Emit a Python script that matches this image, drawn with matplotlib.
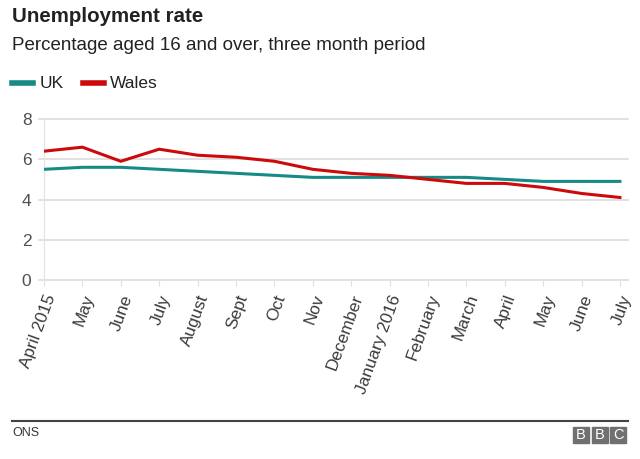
import matplotlib
matplotlib.use("Agg")
import matplotlib.pyplot as plt
from matplotlib.patches import Rectangle
from matplotlib.lines import Line2D

months = ["April 2015", "May", "June", "July", "August", "Sept", "Oct", "Nov",
          "December", "January 2016", "February", "March", "April", "May", "June", "July"]
uk = [5.5, 5.6, 5.6, 5.5, 5.4, 5.3, 5.2, 5.1, 5.1, 5.1, 5.1, 5.1, 5.0, 4.9, 4.9, 4.9]
wales = [6.4, 6.6, 5.9, 6.5, 6.2, 6.1, 5.9, 5.5, 5.3, 5.2, 5.0, 4.8, 4.8, 4.6, 4.3, 4.1]
yticks = [0, 2, 4, 6, 8]

UK_C = "#168b86"
WA_C = "#cc0a0a"
FONT = ["Liberation Sans", "DejaVu Sans"]
plt.rcParams["font.family"] = FONT

W, H = 640, 459
fig = plt.figure(figsize=(W / 100, H / 100), dpi=100)
fig.patch.set_facecolor("white")

def fx(px):
    return px / W

def fy(py):
    return 1 - py / H

ax = fig.add_axes([fx(44), fy(280), fx(628) - fx(44), fy(119) - fy(280)])
x = list(range(len(months)))
ax.plot(x, uk, color=UK_C, lw=2.2, solid_joinstyle="round", zorder=3)
ax.plot(x, wales, color=WA_C, lw=2.2, solid_joinstyle="round", zorder=4)
ax.set_xlim(0, 15.21)
ax.set_ylim(0, 8)
ax.set_yticks(yticks)
ax.set_yticklabels([str(v) for v in yticks])
for v in yticks:
    ax.axhline(v, color="#dcdcdc", lw=1.2, zorder=1, clip_on=False,
               xmin=-5 / 584, xmax=1)
for s in ["top", "right", "bottom"]:
    ax.spines[s].set_visible(False)
ax.spines["left"].set_color("#e6e6e6")
ax.spines["left"].set_linewidth(1)
ax.set_xticks(x)
ax.set_xticklabels(months, rotation=70, ha="right", rotation_mode="anchor")
ax.tick_params(axis="x", length=4, color="#e0e0e0", labelsize=12.3,
               labelcolor="#3a3a3a", pad=5)
ax.tick_params(axis="y", length=0, labelsize=12.5, labelcolor="#505050", pad=9)

fig.text(fx(12), fy(16), "Unemployment rate", fontsize=14.8, fontweight="bold",
         color="#222222", va="center", ha="left")
fig.text(fx(12), fy(46), "Percentage aged 16 and over, three month period",
         fontsize=13.5, color="#222222", va="center", ha="left")

# legend
fig.add_artist(Line2D([fx(12), fx(33)], [fy(83), fy(83)], color=UK_C, lw=4))
fig.text(fx(40), fy(83), "UK", fontsize=12.5, color="#222222", va="center")
fig.add_artist(Line2D([fx(83), fx(104)], [fy(83), fy(83)], color=WA_C, lw=4))
fig.text(fx(110), fy(83), "Wales", fontsize=12.5, color="#222222", va="center")

# footer
fig.add_artist(Line2D([fx(12), fx(628)], [fy(421), fy(421)], color="#444444", lw=1.5))
fig.text(fx(12), fy(433), "ONS", fontsize=9, color="#333333", va="center")
for i, letter in enumerate("BBC"):
    x0 = 573 + i * 18.5
    fig.add_artist(Rectangle((fx(x0), fy(443)), fx(16), fy(427) - fy(443),
                             color="#707070", transform=fig.transFigure))
    fig.text(fx(x0 + 8), fy(435), letter, fontsize=10.5, color="white",
             ha="center", va="center")

fig.savefig("out.png", dpi=100)
